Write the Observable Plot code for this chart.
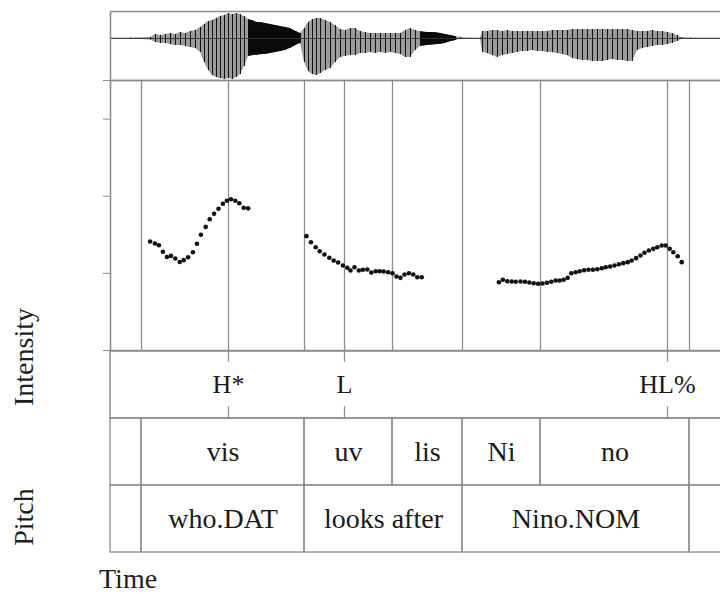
<!DOCTYPE html>
<html><head><meta charset="utf-8">
<script src="https://cdn.jsdelivr.net/npm/d3@7"></script>
<script src="https://cdn.jsdelivr.net/npm/@observablehq/plot@0.6"></script>
<style>
html,body{margin:0;padding:0;background:#fff;overflow:hidden;}
#chart{position:relative;width:720px;height:594px;font-family:"Liberation Serif","Times New Roman",serif;color:#1e1e1e;}
#chart .panel{position:absolute;left:0;}
.lab{position:absolute;font-size:28px;line-height:1;white-space:nowrap;}
.rot{transform:translate(-50%,-50%) rotate(-90deg);}
</style></head><body><div id="chart"></div>
<script>
// ---- data (time in ms) ----
const viewDomain = [0, 1525];       // visible part of the recording
const recordEnd = 1560;             // end of the sound file
const waveDomain = [-0.42, 0.27];   // amplitude range of the waveform panel
const pitchDomain = [0, 350];       // Hz
const pitchTicks = [0, 100, 200, 300, 350];

// waveform envelope: [time, upper amplitude, lower amplitude]
const waveEnvelope = [
  [0,.005,-.005],[50,.005,-.005],[100,.01,-.015],[112.5,.04,-.04],[125,.03,-.05],[137.5,.04,-.05],
  [150,.05,-.06],[162.5,.04,-.07],[175,.06,-.07],[187.5,.05,-.08],[200,.07,-.09],[212.5,.08,-.10],
  [225,.11,-.14],[235,.14,-.24],[245,.17,-.32],[255,.18,-.37],[265,.20,-.39],[275,.22,-.40],
  [285,.23,-.41],[295,.25,-.40],[305,.24,-.41],[315,.25,-.39],[325,.24,-.36],[335,.22,-.28],
  [345,.19,-.18],[355,.18,-.17],[365,.16,-.17],[375,.16,-.16],[387.5,.15,-.16],[400,.14,-.15],
  [412.5,.13,-.14],[425,.12,-.13],[437.5,.11,-.12],[450,.10,-.10],[462.5,.07,-.07],[475,.05,-.05],
  [485,.10,-.24],[495,.16,-.33],[505,.19,-.36],[515,.20,-.37],[525,.20,-.35],[537.5,.18,-.32],
  [550,.16,-.30],[562.5,.13,-.24],[575,.09,-.19],[587.5,.08,-.18],[600,.10,-.17],[612.5,.10,-.17],
  [625,.07,-.15],[637.5,.06,-.15],[650,.05,-.14],[662.5,.05,-.15],[675,.05,-.14],[687.5,.05,-.15],
  [700,.05,-.14],[712.5,.05,-.15],[725,.05,-.16],[737.5,.08,-.19],[750,.10,-.19],[762.5,.08,-.12],
  [775,.07,-.08],[787.5,.06,-.07],[800,.06,-.07],[812.5,.06,-.06],[825,.05,-.06],[837.5,.04,-.05],
  [850,.03,-.03],[862.5,.02,-.02],[875,.01,-.01],[900,.005,-.005],[925,.005,-.005],[930,.07,-.14],
  [942.5,.07,-.15],[955,.08,-.17],[967.5,.08,-.19],[980,.07,-.17],[992.5,.08,-.16],[1005,.07,-.15],
  [1017.5,.07,-.14],[1030,.07,-.13],[1042.5,.07,-.13],[1055,.07,-.12],[1067.5,.07,-.13],[1080,.07,-.13],
  [1092.5,.07,-.14],[1105,.08,-.14],[1117.5,.08,-.15],[1130,.08,-.16],[1142.5,.08,-.17],[1155,.09,-.20],
  [1167.5,.09,-.21],[1180,.09,-.22],[1192.5,.09,-.22],[1205,.09,-.23],[1217.5,.09,-.23],[1230,.09,-.23],
  [1242.5,.09,-.22],[1255,.09,-.21],[1267.5,.09,-.22],[1280,.09,-.22],[1292.5,.09,-.23],[1305,.08,-.23],
  [1317.5,.07,-.12],[1330,.07,-.10],[1342.5,.07,-.09],[1355,.08,-.08],[1367.5,.07,-.07],[1380,.07,-.07],
  [1392.5,.06,-.06],[1405,.05,-.05],[1417.5,.03,-.03],[1427.5,.01,-.01],[1450,.005,-.005],[1525,.005,-.005]
];
// stretches of dense (noisy) signal that print solid black: [start, end]
const noiseSpans = [[342, 482], [772, 872]];

// pitch track: [time, Hz]
const pitchTrack = [
  [99,141.3],[111,138.7],[121,136.5],[131,128.1],[141,121.3],[151,122.6],[162,119.3],[173,114.7],
  [183,117.1],[194,120.9],[206,127.4],[216,138.3],[226,150.1],[238,160.2],[248,170.2],[259,177.2],
  [270,183.7],[281,190.2],[291,194.1],[301,196.0],[312,194.1],[322,190.8],[333,185.0],[344,184.3],
  [490,148.2],[501,140.4],[513,133.9],[523,128.7],[535,124.5],[547,120.2],[558,116.7],[569,114.1],
  [581,110.2],[592,107.2],[600,103.7],[610,108.0],[621,103.7],[631,104.6],[642,105.0],[652,101.1],
  [663,102.8],[673,102.8],[683,102.4],[694,101.5],[705,100.2],[715,95.9],[725,94.2],[735,98.5],
  [746,100.2],[757,98.5],[767,95.0],[778,95.0],
  [971,88.5],[981,91.7],[992,89.8],[1003,89.4],[1013,89.1],[1025,89.4],[1036,89.1],[1047,88.2],
  [1058,87.2],[1069,86.5],[1080,86.9],[1091,87.8],[1102,89.1],[1113,90.7],[1123,90.7],[1133,91.7],
  [1143,94.2],[1152,100.2],[1163,101.5],[1173,102.8],[1184,104.1],[1195,104.6],[1206,104.6],[1217,105.4],
  [1228,106.7],[1238,108.0],[1249,108.9],[1260,110.2],[1271,111.9],[1282,113.2],[1293,114.5],[1303,116.7],
  [1314,119.7],[1325,123.2],[1335,126.7],[1346,129.6],[1357,131.8],[1367,133.9],[1378,136.1],[1388,136.1],
  [1398,131.8],[1407,127.4],[1418,122.2],[1428,114.5]
];

// tiers
const toneLabels = ["H*", "L", "HL%"];
const toneTimes = [295, 585, 1392.5];
const syllableLabels = ["vis", "uv", "lis", "Ni", "no"];
const syllableBounds = [77.5, 485, 705, 880, 1075, 1447.5];
const wordLabels = ["who.DAT", "looks after", "Nino.NOM"];
const wordBounds = [77.5, 485, 880, 1447.5];
const tierNames = ["tones", "syllables", "words"];
const axisLabels = {y1: "Intensity", y2: "Pitch", x: "Time"};

// ---- derived tables ----
const wave = waveEnvelope.map(([t, top, bot]) => ({t, top, bot}));
const noiseParts = noiseSpans.map(([s, e]) => wave.filter(d => d.t >= s && d.t <= e));
const pitch = pitchTrack.map(([t, f]) => ({t, f}));
const tones = toneLabels.map((label, i) => ({label, t: toneTimes[i], tier: "tones"}));
function intervals(labels, bounds, tier) {
  const edges = [0, ...bounds, recordEnd];
  const names = ["", ...labels, ""];
  return names.map((label, i) => ({label, a: edges[i], b: edges[i + 1], tier}));
}
const sylls = intervals(syllableLabels, syllableBounds, "syllables");
const words = intervals(wordLabels, wordBounds, "words");
const allLines = Array.from(new Set([...syllableBounds, ...wordBounds, ...toneTimes])).sort((a, b) => a - b);

const LINE = "#8d8d8d";
const FONT = "'Liberation Serif','Times New Roman',serif";
const chart = document.getElementById("chart");
function place(svg, top) { svg.classList.add("panel"); svg.style.top = top + "px"; chart.appendChild(svg); }

// waveform panel
place(Plot.plot({
  width: 720, height: 72, marginLeft: 110, marginRight: 0, marginTop: 1, marginBottom: 2,
  x: {domain: viewDomain, axis: null},
  y: {domain: waveDomain, axis: null},
  marks: [
    Plot.areaY(wave, {x: "t", y1: "bot", y2: "top", fill: "#8a8a8a", fillOpacity: 0.85}),
    Plot.ruleX(wave, {x: "t", y1: "bot", y2: "top", stroke: "#111", strokeWidth: 1}),
    ...noiseParts.map(part => Plot.areaY(part, {x: "t", y1: "bot", y2: "top", fill: "#0a0a0a", curve: "basis"})),
    Plot.ruleY([0], {stroke: "#333", strokeWidth: 0.9}),
    Plot.ruleY(waveDomain, {stroke: LINE, strokeWidth: 1.6}),
    Plot.ruleX([0], {stroke: LINE, strokeWidth: 1.6})
  ]
}), 10);

// pitch panel
place(Plot.plot({
  width: 720, height: 274, marginLeft: 110, marginRight: 0, marginTop: 2, marginBottom: 2,
  style: {color: LINE},
  x: {domain: viewDomain, axis: null},
  y: {domain: pitchDomain, axis: "left", ticks: pitchTicks, tickSize: 7, tickFormat: () => "", label: null},
  marks: [
    Plot.ruleX(allLines, {stroke: LINE, strokeWidth: 1.3}),
    Plot.ruleY(pitchDomain, {stroke: LINE, strokeWidth: 1.6}),
    Plot.ruleX([0], {stroke: LINE, strokeWidth: 1.6}),
    Plot.dot(pitch, {x: "t", y: "f", r: 2.3, fill: "#111", stroke: "none"})
  ]
}), 78);

// tiers panel
const bw = 202 / 3;
place(Plot.plot({
  width: 720, height: 245, marginLeft: 110, marginRight: 0, marginTop: 1, marginBottom: 42,
  style: {color: "#1e1e1e", fontFamily: FONT},
  x: {domain: viewDomain, axis: null},
  y: {type: "band", domain: tierNames, padding: 0, axis: null},
  marks: [
    Plot.rect([{a: 0, b: recordEnd, tier: "tones"}], {x1: "a", x2: "b", y: "tier", fill: "none", stroke: LINE, strokeWidth: 1.5}),
    Plot.rect(sylls, {x1: "a", x2: "b", y: "tier", fill: "none", stroke: LINE, strokeWidth: 1.3}),
    Plot.rect(words, {x1: "a", x2: "b", y: "tier", fill: "none", stroke: LINE, strokeWidth: 1.3}),
    Plot.tickX(tones, {x: "t", y: "tier", stroke: LINE, strokeWidth: 1.3, insetBottom: bw - 11}),
    Plot.tickX(tones, {x: "t", y: "tier", stroke: LINE, strokeWidth: 1.3, insetTop: bw - 12}),
    Plot.text(tones, {x: "t", y: "tier", text: "label", fontSize: 26, fontFamily: FONT, fill: "#1a1a1a"}),
    Plot.text(sylls.filter(d => d.label), {x: d => (d.a + d.b) / 2, y: "tier", text: "label", fontSize: 28, fontFamily: FONT, fill: "#1a1a1a"}),
    Plot.text(words.filter(d => d.label), {x: d => (d.a + d.b) / 2, y: "tier", text: "label", fontSize: 28, fontFamily: FONT, fill: "#1a1a1a"})
  ]
}), 349);

// axis labels
function label(text, css, cls) {
  const d = document.createElement("div");
  d.className = "lab " + (cls || "");
  d.textContent = text;
  Object.assign(d.style, css);
  chart.appendChild(d);
}
label(axisLabels.y1, {left: "24px", top: "357px"}, "rot");
label(axisLabels.y2, {left: "24px", top: "517px"}, "rot");
label(axisLabels.x, {left: "99px", top: "565px"});
</script></body></html>
